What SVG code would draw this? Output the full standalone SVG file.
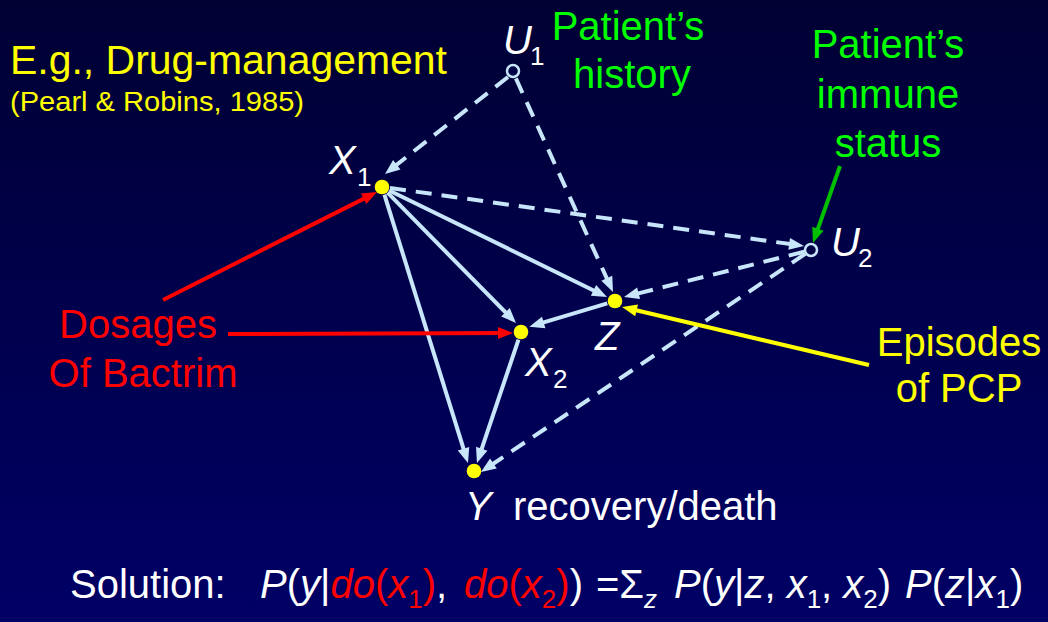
<svg xmlns="http://www.w3.org/2000/svg" width="1048" height="622" viewBox="0 0 1048 622">
  <defs>
    <linearGradient id="bg" x1="0" y1="0" x2="0" y2="1">
      <stop offset="0" stop-color="#000033"/>
      <stop offset="1" stop-color="#000066"/>
    </linearGradient>
    <marker id="ah" markerUnits="userSpaceOnUse" markerWidth="16" markerHeight="14" refX="7" refY="6" orient="auto" overflow="visible">
      <path d="M0,0 L15,6 L0,12 z" fill="#C8E6FA"/>
    </marker>
    <marker id="ahRed" markerUnits="userSpaceOnUse" markerWidth="16" markerHeight="14" refX="7" refY="6" orient="auto" overflow="visible">
      <path d="M0,0 L15,6 L0,12 z" fill="#FF0000"/>
    </marker>
    <marker id="ahYel" markerUnits="userSpaceOnUse" markerWidth="16" markerHeight="14" refX="7" refY="6" orient="auto" overflow="visible">
      <path d="M0,0 L15,6 L0,12 z" fill="#FFFF00"/>
    </marker>
    <marker id="ahGrn" markerUnits="userSpaceOnUse" markerWidth="16" markerHeight="14" refX="7" refY="6" orient="auto" overflow="visible">
      <path d="M0,0 L15,6 L0,12 z" fill="#00C000"/>
    </marker>
  </defs>
  <style>
    text { font-family: "Liberation Sans", Arial, sans-serif; }
    .lbl { fill: #FFFFFF; font-size: 40px; font-style: italic; }
    .sub { fill: #FFFFFF; font-size: 26px; }
    .white { fill: #FFFFFF; font-size: 40px; }
    .yel { fill: #FFFF00; }
    .grn { fill: #00FF00; font-size: 40px; }
    .red { fill: #FF0000; }
    .edge { stroke: #C8E6FA; stroke-width: 4; fill: none; marker-end: url(#ah); }
    .dash { stroke-dasharray: 16 10; }
    .obs { fill: #FFFF00; }
    .lat { fill: #000045; stroke: #C8E6FA; stroke-width: 2.5; }
  </style>

  <rect x="0" y="0" width="1048" height="622" fill="url(#bg)"/>

  <!-- title -->
  <g id="title">
    <text x="10" y="74" class="yel" font-size="40" textLength="437" lengthAdjust="spacingAndGlyphs">E.g., Drug-management</text>
    <text x="10" y="111" class="yel" font-size="28" textLength="294" lengthAdjust="spacingAndGlyphs">(Pearl &amp; Robins, 1985)</text>
  </g>

  <!-- connectors -->
  <g id="connectors">
    <line class="edge dash" x1="508" y1="77" x2="391.3" y2="169"/>
    <line class="edge dash" x1="515.9" y1="78.4" x2="609.7" y2="284.7"/>
    <line class="edge dash" x1="390" y1="188" x2="796.1" y2="244.9"/>
    <line class="edge dash" x1="804.2" y1="251.7" x2="631.8" y2="295"/>
    <line class="edge dash" x1="805.2" y1="253.9" x2="487.6" y2="467.5"/>
    <line class="edge" x1="389.2" y1="190.5" x2="599.8" y2="293.5"/>
    <line class="edge" x1="387.6" y1="192.7" x2="510.4" y2="317.3"/>
    <line class="edge" x1="384.4" y1="194.6" x2="465.6" y2="455.4"/>
    <line class="edge" x1="607.3" y1="303.3" x2="537" y2="324.4"/>
    <line class="edge" x1="518.5" y1="339.6" x2="479.5" y2="455.4"/>
    <!-- annotation arrows -->
    <line x1="163" y1="300" x2="369.9" y2="195.6" stroke="#FF0000" stroke-width="4" marker-end="url(#ahRed)"/>
    <line x1="228" y1="334" x2="505" y2="333" stroke="#FF0000" stroke-width="4" marker-end="url(#ahRed)"/>
    <line x1="869" y1="365" x2="629.8" y2="308.8" stroke="#FFFF00" stroke-width="4" marker-end="url(#ahYel)"/>
    <line x1="840" y1="166" x2="815.6" y2="235.4" stroke="#00C000" stroke-width="4" marker-end="url(#ahGrn)"/>
  </g>

  <!-- nodes -->
  <g id="U1">
    <circle class="lat" cx="513" cy="71" r="6"/>
    <text x="503" y="54" class="lbl">U</text>
    <text x="530" y="65" class="sub">1</text>
  </g>
  <g id="X1">
    <circle class="obs" cx="382" cy="187" r="7.3"/>
    <text x="329" y="174" class="lbl">X</text>
    <text x="357" y="186" class="sub">1</text>
  </g>
  <g id="U2">
    <circle class="lat" cx="811" cy="250" r="6"/>
    <text x="831" y="256" class="lbl">U</text>
    <text x="858" y="267" class="sub">2</text>
  </g>
  <g id="Z">
    <circle class="obs" cx="615" cy="301" r="7.3"/>
    <text x="595" y="350" class="lbl">Z</text>
  </g>
  <g id="X2">
    <circle class="obs" cx="521" cy="332" r="7.3"/>
    <text x="525" y="376" class="lbl">X</text>
    <text x="553" y="388" class="sub">2</text>
  </g>
  <g id="Y">
    <circle class="obs" cx="474" cy="471" r="7.3"/>
    <text x="465" y="520" class="lbl">Y</text>
    <text x="513" y="520" class="white">recovery/death</text>
  </g>

  <!-- annotation labels -->
  <g id="history-label">
    <text x="628" y="40" class="grn" text-anchor="middle">Patient’s</text>
    <text x="632" y="88" class="grn" text-anchor="middle">history</text>
  </g>
  <g id="immune-label">
    <text x="888" y="58" class="grn" text-anchor="middle">Patient’s</text>
    <text x="888" y="108" class="grn" text-anchor="middle">immune</text>
    <text x="888" y="157" class="grn" text-anchor="middle">status</text>
  </g>
  <g id="dosage-label">
    <text x="138" y="338" class="red" font-size="40" text-anchor="middle">Dosages</text>
    <text x="143" y="387" class="red" font-size="40" text-anchor="middle">Of Bactrim</text>
  </g>
  <g id="pcp-label">
    <text x="959" y="356" class="yel" font-size="40" text-anchor="middle">Episodes</text>
    <text x="959" y="402" class="yel" font-size="40" text-anchor="middle">of PCP</text>
  </g>

  <!-- formula -->
  <g id="formula">
    <text x="70" y="598" class="white">Solution:</text>
    <text y="598" fill="#FFFFFF" font-size="40"><tspan x="260" font-style="italic">P</tspan><tspan>(</tspan><tspan font-style="italic">y</tspan><tspan>|</tspan><tspan fill="#FF0000" font-style="italic">do</tspan><tspan fill="#FF0000">(</tspan><tspan fill="#FF0000" font-style="italic">x</tspan><tspan fill="#FF0000" font-size="26" dy="10">1</tspan><tspan fill="#FF0000" dy="-10">)</tspan><tspan>, </tspan><tspan x="464" fill="#FF0000" font-style="italic">do</tspan><tspan fill="#FF0000">(</tspan><tspan fill="#FF0000" font-style="italic">x</tspan><tspan fill="#FF0000" font-size="26" dy="10">2</tspan><tspan fill="#FF0000" dy="-10">)</tspan><tspan>)</tspan><tspan x="596">=Σ</tspan><tspan font-size="26" font-style="italic" dy="10">z</tspan><tspan x="674" dy="-10" font-style="italic">P</tspan><tspan>(</tspan><tspan font-style="italic">y</tspan><tspan>|</tspan><tspan font-style="italic">z</tspan><tspan>, </tspan><tspan font-style="italic">x</tspan><tspan font-size="26" dy="10">1</tspan><tspan dy="-10">, </tspan><tspan font-style="italic">x</tspan><tspan font-size="26" dy="10">2</tspan><tspan dy="-10">)</tspan><tspan x="905" font-style="italic">P</tspan><tspan>(</tspan><tspan font-style="italic">z</tspan><tspan>|</tspan><tspan font-style="italic">x</tspan><tspan font-size="26" dy="10">1</tspan><tspan dy="-10">)</tspan></text>
  </g>
</svg>
